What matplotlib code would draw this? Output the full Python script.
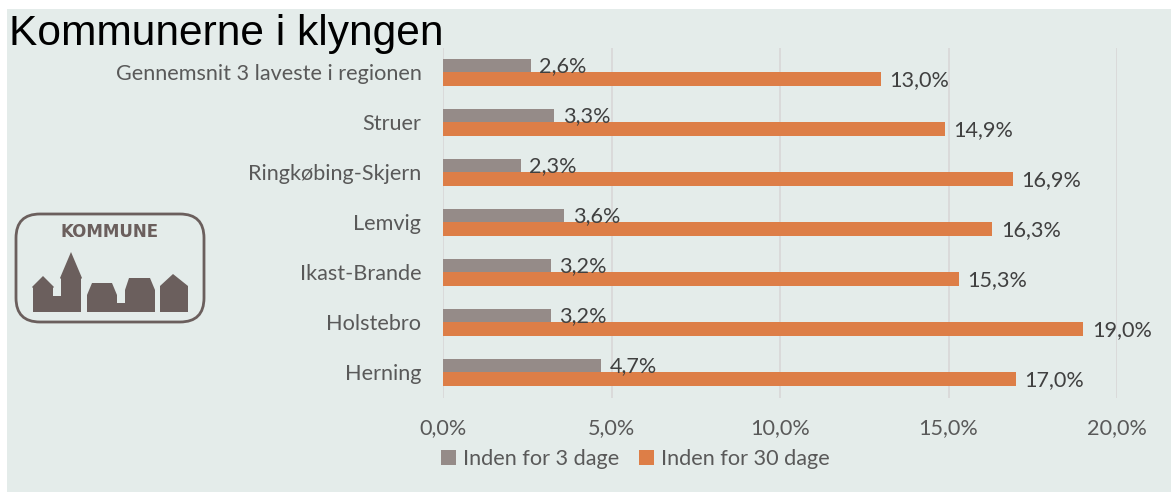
#!/usr/bin/env python3

import matplotlib
matplotlib.use("Agg")
import matplotlib.pyplot as plt
from matplotlib.patches import FancyBboxPatch, Polygon, Rectangle
import numpy as np

W, H = 1171, 492

kommuner = ["Herning", "Holstebro", "Ikast-Brande", "Lemvig", "Ringkøbing-Skjern",
            "Struer", "Gennemsnit 3 laveste i regionen"]
inden_3 = [4.7, 3.2, 3.2, 3.6, 2.3, 3.3, 2.6]
inden_30 = [17.0, 19.0, 15.3, 16.3, 16.9, 14.9, 13.0]
xticks = [0, 5, 10, 15, 20]

GRAA = "#958b88"
ORANGE = "#dd7e47"
BG = "#e4ecea"
TEKST = "#595959"
LOGO = "#6b5f5d"
FS = 15.6


def pct(v):
    return f"{v:.1f}%".replace(".", ",")


def tegn_logo(fig):
    # logoet tegnes i pixels, y nedad som i billedet
    ax = fig.add_axes([0, 0, 1, 1], zorder=3)
    ax.set_xlim(0, W)
    ax.set_ylim(H, 0)
    ax.axis("off")
    ax.patch.set_alpha(0)
    ax.add_patch(FancyBboxPatch((16, 214), 188, 108, boxstyle="round,pad=0,rounding_size=24",
                                fc="none", ec=LOGO, lw=2.0))
    huse = [
        [(33, 312), (33, 288), (32, 287), (43, 276), (54, 287), (53, 288), (53, 296),
         (61, 296), (61, 279), (60, 278), (71, 252), (82, 278), (81, 279), (81, 312)],
        [(87, 312), (87, 295), (92, 283), (112, 283), (117, 295), (117, 303), (125, 303),
         (125, 290), (129, 278), (150, 278), (155, 290), (155, 312)],
        [(160, 312), (160, 286), (173, 274), (188, 286), (188, 312)],
    ]
    for hus in huse:
        ax.add_patch(Polygon(hus, closed=True, fc=LOGO, ec="none"))
    ax.text(110, 232, "KOMMUNE", ha="center", va="center", color=LOGO,
            fontsize=12, fontweight="bold", family="DejaVu Sans")


def main():
    plt.rcParams["font.family"] = ["Lato", "DejaVu Sans"]
    fig = plt.figure(figsize=(W / 100, H / 100), dpi=100, facecolor="white")
    fig.add_artist(Rectangle((7 / W, 0), (W - 7) / W, 1 - 9 / H, transform=fig.transFigure,
                             fc=BG, ec="none", zorder=-5))

    ax = fig.add_axes([443 / W, 1 - 397.5 / H, 674 / W, 350 / H])
    ax.patch.set_alpha(0)
    y = np.arange(len(kommuner))
    ax.barh(y + 0.135, inden_3, height=0.28, color=GRAA, label="Inden for 3 dage", zorder=2)
    ax.barh(y - 0.13, inden_30, height=0.28, color=ORANGE, label="Inden for 30 dage", zorder=2)

    for i, v in enumerate(inden_3):
        ax.text(v + 0.25, i + 0.12, pct(v), va="center", ha="left", color="#404040",
                fontsize=FS, zorder=4, clip_on=False)
    for i, v in enumerate(inden_30):
        ax.text(v + 0.25, i - 0.16, pct(v), va="center", ha="left", color="#404040",
                fontsize=FS, zorder=4, clip_on=False)

    ax.set_xlim(0, 20)
    ax.set_ylim(-0.5, len(kommuner) - 0.5)
    ax.set_yticks(y)
    ax.set_yticklabels(kommuner)
    ax.set_xticks(xticks)
    ax.set_xticklabels([pct(v) for v in xticks])
    ax.tick_params(axis="both", length=0, colors=TEKST, labelsize=FS)
    ax.tick_params(axis="x", pad=15)
    ax.tick_params(axis="y", pad=15.5)
    ax.grid(True, axis="x", color="#d9d9d9", lw=1.3, zorder=0)
    ax.set_axisbelow(True)
    for s in ax.spines.values():
        s.set_visible(False)

    fig.legend(loc="center", bbox_to_anchor=(635 / W, 1 - 459 / H), ncol=2, frameon=False,
               fontsize=FS, labelcolor=TEKST, handlelength=0.72, handleheight=0.72,
               handletextpad=0.3, columnspacing=0.9)

    fig.text(9 / W, 1 - 34 / H, "Kommunerne i klyngen", family="Liberation Sans", fontsize=30.6,
             color="black", va="center", ha="left")

    tegn_logo(fig)
    fig.savefig("out.png", dpi=100)
    plt.close(fig)


if __name__ == "__main__":
    main()
